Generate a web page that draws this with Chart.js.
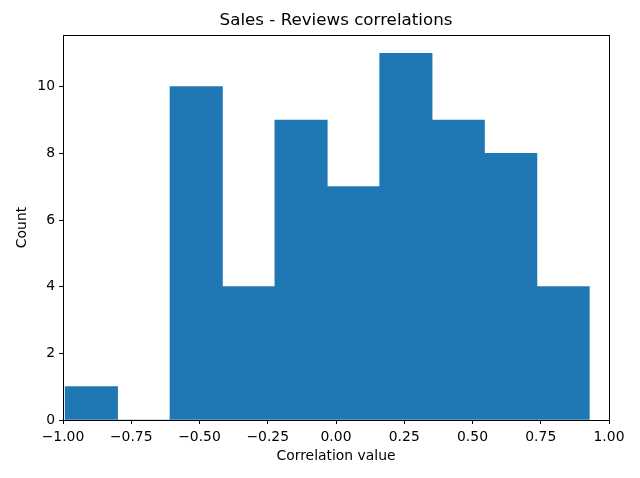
<!DOCTYPE html>
<html>
<head>
<meta charset="utf-8">
<script src="https://cdn.jsdelivr.net/npm/chart.js@4/dist/chart.umd.min.js"></script>
<style>
  html, body { margin: 0; padding: 0; background: #fff; }
  #wrap { width: 640px; height: 478px; }
</style>
</head>
<body>
<div id="wrap"><canvas id="grafico" width="640" height="478"></canvas></div>
<script>
// histogram data
const binEdges = [-0.992, -0.800, -0.608, -0.416, -0.224, -0.032, 0.160, 0.352, 0.544, 0.736, 0.928];
const counts = [1, 0, 10, 4, 9, 7, 11, 9, 8, 4];
const xTicks = [-1, -0.75, -0.5, -0.25, 0, 0.25, 0.5, 0.75, 1];
const yTicks = [0, 2, 4, 6, 8, 10];
const titulo = 'Sales - Reviews correlations';

const puntos = counts.map((c, i) => ({ x: (binEdges[i] + binEdges[i + 1]) / 2, y: c }));

const fuente = 'DejaVu Sans';

// marco negro y titulo centrado sobre el area (como matplotlib)
const marco = {
  id: 'marco',
  afterDatasetsDraw(chart) {
    const a = chart.chartArea;
    const ctx = chart.ctx;
    ctx.save();
    ctx.strokeStyle = '#000';
    ctx.lineWidth = 1;
    ctx.strokeRect(Math.round(a.left) + 0.5, Math.round(a.top) + 0.5,
      Math.round(a.right - a.left), Math.round(a.bottom - a.top));
    ctx.fillStyle = '#000';
    ctx.font = '16.7px "' + fuente + '"';
    ctx.textAlign = 'center';
    ctx.textBaseline = 'middle';
    ctx.fillText(titulo, (a.left + a.right) / 2, 21);
    ctx.restore();
  }
};

new Chart(document.getElementById('grafico').getContext('2d'), {
  type: 'bar',
  data: {
    datasets: [{
      label: 'Count',
      data: puntos,
      backgroundColor: '#1f77b4',
      borderWidth: 0,
      barPercentage: 1,
      categoryPercentage: 1
    }]
  },
  options: {
    responsive: false,
    animation: false,
    layout: { padding: { left: 0, right: 31, top: 35, bottom: 0 } },
    plugins: {
      legend: { display: false },
      tooltip: { enabled: false },
      title: { display: false }
    },
    scales: {
      x: {
        type: 'linear',
        min: -1,
        max: 1,
        offset: false,
        afterBuildTicks: s => { s.ticks = xTicks.map(v => ({ value: v })); },
        afterFit: s => { s.height = 58; },
        grid: { display: true, offset: false, drawOnChartArea: false, drawTicks: true, tickLength: 4, color: '#000' },
        border: { display: false },
        ticks: {
          color: '#000',
          padding: 5,
          maxRotation: 0,
          font: { family: fuente, size: 13.9 },
          callback: v => v.toFixed(2).replace('-', '\u2212')
        },
        title: {
          display: true,
          text: 'Correlation value',
          color: '#000',
          font: { family: fuente, size: 13.9 },
          padding: { top: 0, bottom: 13 }
        }
      },
      y: {
        min: 0,
        max: 11.55,
        afterBuildTicks: s => { s.ticks = yTicks.map(v => ({ value: v })); },
        afterFit: s => { s.width = 63; },
        grid: { display: true, drawOnChartArea: false, drawTicks: true, tickLength: 4, color: '#000' },
        border: { display: false },
        ticks: {
          color: '#000',
          padding: 4,
          font: { family: fuente, size: 13.9 }
        },
        title: {
          display: true,
          text: 'Count',
          color: '#000',
          font: { family: fuente, size: 13.9 },
          padding: { top: 14, bottom: 0 }
        }
      }
    }
  },
  plugins: [marco]
});
</script>
</body>
</html>
